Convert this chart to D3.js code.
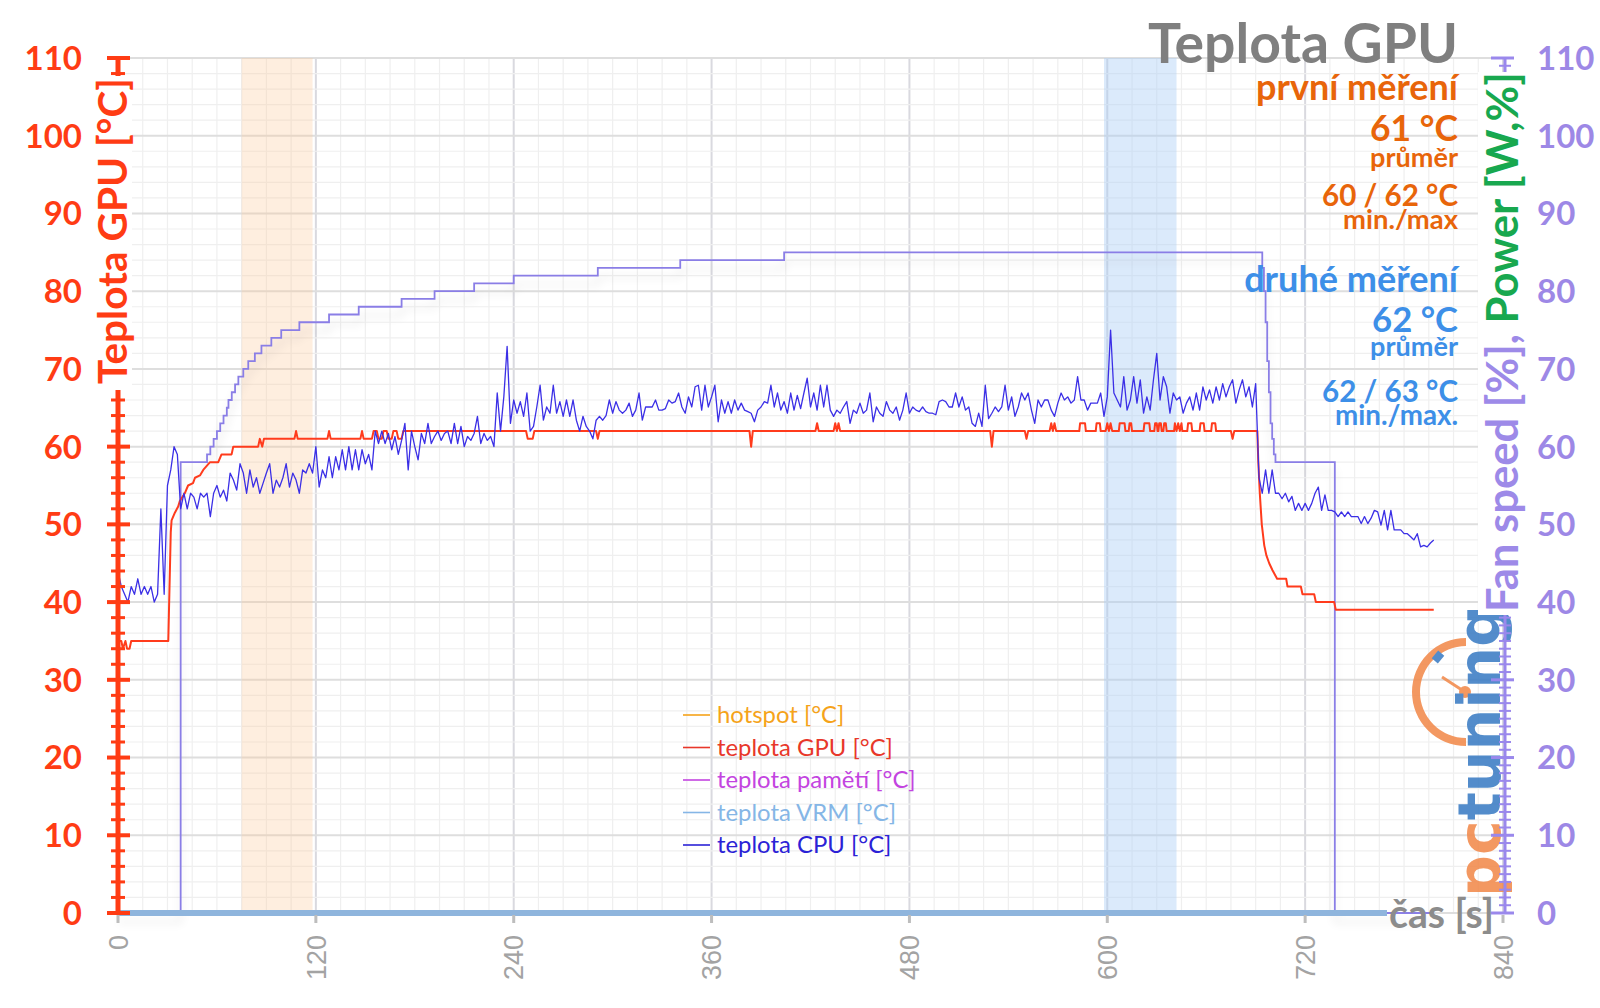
<!DOCTYPE html>
<html><head><meta charset="utf-8">
<script src="https://cdn.jsdelivr.net/npm/d3@7"></script>
<style>body{margin:0;background:#fff}svg{display:block}</style>
</head><body>
<svg id="c" width="1600" height="1008"></svg>
<script>
// ---------- data ----------
const timeTicks = [0,120,240,360,480,600,720,840];
const tempTicks = [0,10,20,30,40,50,60,70,80,90,100,110];
const rightTicks = [0,10,20,30,40,50,60,70,80,90,100,110];

// GPU temperature [°C] (time s, value)
const gpuTimes = [0,2,3,4.5,5.5,7,8,30.5,32,32.5,34.5,36.5,37.5,40.5,42.5,45.5,46.7,49.7,51.7,55.8,60.8,62.8,68.9,69.9,85,86,87.5,88.5,107,108,109,127,128,129,147,148,149,154,155,157,158,160,161,163,164,166,167,169,170,172,173,247.5,248.5,251.5,252.5,290,291,292,383,384,385,423,424,425,434,435,436,437,438,529,530,531,550,551,552,565,566,567,568,569,583,583.5,586.5,587,593,593.5,595.5,596,599,600,601,602,603,607,607.5,610.5,611,613,613.5,614.5,615,622,622.5,625.5,626,628.5,629,630,630.5,631,631.5,632.5,633,634,634.5,635.5,636,640.5,641,642,643,644,645,645.5,648.5,649,651,651.5,656,656.5,658.5,659,663,663.5,665.5,666,675,676,677,691,691.6,692.5,693.7,695.2,696.5,698.2,700.2,703,708.5,709.3,717.4,718.4,725.5,726.5,737.6,738.6,798];
const gpuValues = [35,35,34,35,34,34,35,35,49,50.5,51.5,52.3,53,54,55,55.3,56,56.3,57,58,58,59,59,60,60,61,60,61,61,62,61,61,62,61,61,62,61,61,62,62,61,61,62,62,61,61,62,62,61,61,62,62,61,61,62,62,61,62,62,60,62,62,63,62,62,63,62,63,62,62,60,62,62,61,62,62,63,62,63,62,62,63,63,62,62,63,63,62,62,63,62,63,62,62,63,63,62,62,63,63,62,62,63,63,62,62,63,63,62,62,63,63,62,62,63,63,62,62,63,62,63,62,63,62,62,63,63,62,62,63,63,62,62,63,63,62,62,61,62,62,58,54,50,47.3,46,45,44.1,43,43,42,42,41,41,40,40,39,39];

// CPU temperature [°C], one value every 2 s from 0 s
const cpuStep = 2;
const cpuValues = [
44,42,41,40,42,41,43,41,42,41,
42,40,41,52,41,55,57,60,59,52,
54,52,54,53.5,52,54,53.5,54,51,54,
55,53.5,54.4,53,56.6,55.7,54.4,57.8,56.6,54,
57,54.8,56,54,55.3,56.6,57.8,54,55.7,54.8,
56,57.8,54.8,56.6,55.7,54,57,56.6,57.8,56.6,
60,54.8,57,56,58.7,56,58.7,57,59.6,57,
60,57,59.6,57,59.6,57.8,59,57,62,60.4,
62,60.4,61.7,59.6,61.3,59,60.8,63,57,62,
60,58.3,61.7,60.4,63,60.4,61.3,62,60.8,61.7,
62,60.4,63,60.4,62.6,60,61.3,60.8,61.7,63.9,
60.4,61.7,60.8,61.3,60,66.9,62,66.4,72.9,63,
66,64.3,65.8,63.9,66.9,62,62.6,65.1,67.9,63.4,
65.1,64.3,67.9,64.3,65.8,63.9,66,63.9,66,63.4,
62,63.9,62.6,62,61,63.4,63.9,63.4,64,66,
64.3,65.8,64.7,64.3,64.7,65.6,63.9,64.7,66.9,63.4,
65.1,65.1,65.1,66,64.7,64.7,64.9,66,65.6,65.8,
66.9,65.1,64.3,66.4,65.1,67.7,67.9,64.7,67.9,65.1,
66.4,67.9,63.2,66,64.3,65.8,64.3,66,64.7,65.6,
64.7,64.5,64.3,63.2,64.7,65.1,65.8,65.6,67.9,65.1,
66.9,64.7,65.8,64.3,66.9,64.7,66.6,64.9,66.9,68.8,
65.1,66.9,64.7,67.9,65.1,67.9,64.7,63.9,64.7,64.3,
65.1,65.8,63,64.7,64.3,65.6,64.3,64.7,66.9,63.2,
65.1,64.3,63.9,65.8,64.7,64.3,65.1,63.4,64.7,66.9,
64.3,65.1,64.7,64.5,65.1,64.5,64.3,64.3,64.1,65.8,
66,65.8,65.1,65.1,66.9,65.1,66.4,64.7,65.1,63,
62.6,64.3,62.6,67.9,63.6,64.3,65.1,64.5,65.1,67.9,
64.7,66.4,63.9,65.1,66.9,66,66.9,64.7,63,66,
65.1,66,66,64.7,63.9,65.6,66.9,66,66.4,65.6,
66,69,66,66,64.7,65.6,65.6,65.6,66.9,63.9,
66.4,75,66.9,66,65.1,69,64.7,66,69,65.6,
68.6,64.3,66.4,64.7,68.6,72,66,69,67.7,64.3,
66.9,66,66.4,64.3,65.6,66.4,64.7,66.9,64.7,67.7,
66,67.3,65.6,67.7,66,68.1,66.4,67.7,68.6,65.6,
67.3,68.6,66.4,67.7,65.1,68.1,56,54,57,54,
57,54,54,53.3,54,52.9,53.6,51.8,52.7,51.8,
52.7,51.8,52.7,54,54.8,51.8,53.8,51.8,51.8,51.6,
51,51.6,51,51.6,51,51,51,50.1,51,50.1,
50.8,51.8,51.6,49.9,51.8,49.3,51.8,49.3,49.3,49.3,
48.8,48.8,48.4,48,48.8,47.1,47.3,47.1,47.6,48];

// Fan speed [%] (step after)
const fanTimes = [0,38,54,56,58,60,62,64,66,67,69,71,73,76,79,83,87,93,99,110,128,146,172,192,216,240,291,341,404,694,695,696,697,698,699,700,701,702,738,798];
const fanValues = [0,58,59,60,61,62,63,64,65,66,67,68,69,70,71,72,73,74,75,76,77,78,79,80,81,82,83,84,85,83,80,76,71,67,63,61,59,58,0,0];

const bandFirst = [75,118];
const bandSecond = [598,642];

const legendLabels = ["hotspot [°C]","teplota GPU [°C]","teplota pamětí [°C]","teplota VRM [°C]","teplota CPU [°C]"];
const legendColors = ["#f5a31a","#e8372a","#c344e0","#85b6e6","#2b22d6"];

const infoFirst = ["první měření","61 °C","průměr","60 / 62 °C","min./max"];
const infoSecond = ["druhé měření","62 °C","průměr","62 / 63 °C","min./max."];

// ---------- drawing ----------
const svg = d3.select("#c");
const F = "Lato, 'Open Sans', sans-serif";
const x = d3.scaleLinear().domain([0,840]).range([118,1503]);
const y = d3.scaleLinear().domain([0,110]).range([913,58]);
const yR = d3.scaleLinear().domain([0,110]).range([913,58]);

function fit(sel, target){
  const w = sel.node().getComputedTextLength();
  const fs = parseFloat(sel.attr("font-size"));
  sel.attr("font-size", fs*target/w);
  return sel;
}

const defs = svg.append("defs");
const filt = defs.append("filter").attr("id","sh").attr("x","-5%").attr("y","-10%").attr("width","110%").attr("height","140%");
filt.append("feGaussianBlur").attr("in","SourceAlpha").attr("stdDeviation",5).attr("result","b");
filt.append("feOffset").attr("in","b").attr("dy",9).attr("result","o");
filt.append("feComponentTransfer").attr("in","o").attr("result","t").append("feFuncA").attr("type","linear").attr("slope",0.13);
const fm = filt.append("feMerge"); fm.append("feMergeNode").attr("in","t"); fm.append("feMergeNode").attr("in","SourceGraphic");

// grid
const g = svg.append("g");
g.selectAll(".vm").data(d3.range(0,841,15)).join("line")
  .attr("x1",d=>x(d)).attr("x2",d=>x(d)).attr("y1",y(110)).attr("y2",y(0))
  .attr("stroke",d=>d%120===0?"#d9d9df":"#efefef").attr("stroke-width",d=>d%120===0?2:1.2);
g.selectAll(".hm").data(d3.range(0,111,2)).join("line")
  .attr("x1",x(0)).attr("x2",x(840)).attr("y1",d=>y(d)).attr("y2",d=>y(d))
  .attr("stroke",d=>d%10===0?"#dedede":"#efefef").attr("stroke-width",d=>d%10===0?2:1.2);

// bands
svg.append("rect").attr("x",x(bandFirst[0])).attr("width",x(bandFirst[1])-x(bandFirst[0]))
  .attr("y",y(110)).attr("height",y(0)-y(110)).attr("fill","#fbc896").attr("opacity",0.3);
svg.append("rect").attr("x",x(bandSecond[0])).attr("width",x(bandSecond[1])-x(bandSecond[0]))
  .attr("y",y(110)).attr("height",y(0)-y(110)).attr("fill","#a9cdf5").attr("opacity",0.42);

// logo (watermark)
const logo = svg.append("g").attr("opacity",0.88);
const arc = d3.arc().innerRadius(46).outerRadius(54).startAngle(Math.PI).endAngle(2*Math.PI);
logo.append("path").attr("d",arc()).attr("transform","translate(1466,692)").attr("fill","#f28a4c");
logo.append("rect").attr("x",1434).attr("y",652).attr("width",8).attr("height",10).attr("fill","#3c7dc4").attr("transform","rotate(40,1438,657)");
logo.append("line").attr("x1",1442).attr("y1",677).attr("x2",1465).attr("y2",692).attr("stroke","#f28a4c").attr("stroke-width",3);
logo.append("circle").attr("cx",1465).attr("cy",692).attr("r",6).attr("fill","#f28a4c");
const lt = logo.append("text").attr("transform","translate(1500,897) rotate(-90)")
  .attr("font-family","'DejaVu Sans', sans-serif").attr("font-weight","bold").attr("font-size",56);
lt.append("tspan").attr("fill","#f28a4c").text("pc");
lt.append("tspan").attr("fill","#3c7dc4").text("tuning");
fit(lt,292);

// lines
const fanPts = fanTimes.map((t,i)=>[t,fanValues[i]]);
svg.append("path").datum(fanPts).attr("fill","none").attr("stroke","#8a7ee6").attr("stroke-width",1.8)
  .attr("filter","url(#sh)")
  .attr("d",d3.line().x(d=>x(d[0])).y(d=>yR(d[1])).curve(d3.curveStepAfter));

const gpuPts = gpuTimes.map((t,i)=>[t,gpuValues[i]]);
svg.append("path").datum(gpuPts).attr("fill","none").attr("stroke","#ff3b1c").attr("stroke-width",2)
  .attr("stroke-linejoin","round")
  .attr("d",d3.line().x(d=>x(d[0])).y(d=>y(d[1])));

const cpuPts = cpuValues.map((v,i)=>[i*cpuStep,v]);
svg.append("path").datum(cpuPts).attr("fill","none").attr("stroke","#3b2fe6").attr("stroke-width",1.3)
  .attr("stroke-linejoin","round")
  .attr("d",d3.line().x(d=>x(d[0])).y(d=>y(d[1])));

// x axis
svg.append("line").attr("x1",x(0)).attr("x2",1387).attr("y1",y(0)+2).attr("y2",y(0)+2).attr("stroke","#cfcfcf").attr("stroke-width",2);
svg.append("line").attr("x1",x(0)).attr("x2",1387).attr("y1",y(0)).attr("y2",y(0)).attr("stroke","#8fb5dd").attr("stroke-width",6);
svg.selectAll(".xt").data(timeTicks).join("line")
  .attr("x1",d=>x(d)).attr("x2",d=>x(d)).attr("y1",y(0)+2).attr("y2",y(0)+10).attr("stroke","#bdbdbd").attr("stroke-width",3);
svg.selectAll(".xl").data(timeTicks).join("text")
  .attr("transform",d=>`translate(${x(d)},935) rotate(-90)`).attr("dy","0.36em")
  .attr("text-anchor","end").attr("font-family","'Liberation Sans', Arial, sans-serif").attr("font-size",27)
  .attr("fill","#a3a3a3").text(d=>d);
fit(svg.append("text").attr("x",1389).attr("y",915).attr("dy","0.33em").attr("font-family",F).attr("font-weight","bold")
  .attr("font-size",32).attr("fill","#8c8c8c").text("čas [s]"),105);

// left axis
const red = "#ff3c14";
svg.append("line").attr("x1",118).attr("x2",118).attr("y1",y(0)).attr("y2",y(110)).attr("stroke",red).attr("stroke-width",5);
svg.selectAll(".lmt").data(d3.range(0,111,2).filter(d=>d%10)).join("line")
  .attr("x1",111).attr("x2",125).attr("y1",d=>y(d)).attr("y2",d=>y(d)).attr("stroke",red).attr("stroke-width",3);
svg.selectAll(".lMt").data(tempTicks).join("line")
  .attr("x1",107).attr("x2",130).attr("y1",d=>y(d)).attr("y2",d=>y(d)).attr("stroke",red).attr("stroke-width",4);
svg.append("rect").attr("x",86).attr("y",76).attr("width",46).attr("height",314).attr("fill","#fff");
fit(svg.append("text").attr("transform","translate(127,384) rotate(-90)").attr("font-family",F).attr("font-weight","bold")
  .attr("font-size",42).attr("fill",red).text("Teplota GPU [°C]"),306);
svg.selectAll(".ll").data(tempTicks).join("text")
  .attr("x",82).attr("y",d=>y(d)).attr("dy","0.36em").attr("text-anchor","end")
  .attr("font-family",F).attr("font-weight","bold").attr("font-size",33).attr("fill",red).text(d=>d);

// right axis
const purp = "#9a88ec";
svg.append("line").attr("x1",1505).attr("x2",1505).attr("y1",y(0)).attr("y2",y(110)).attr("stroke",purp).attr("stroke-width",3);
svg.selectAll(".rmt").data(d3.range(0,111,1).filter(d=>d%10)).join("line")
  .attr("x1",1499).attr("x2",1511).attr("y1",d=>yR(d)).attr("y2",d=>yR(d)).attr("stroke",purp).attr("stroke-width",2);
svg.selectAll(".rMt").data(rightTicks).join("line")
  .attr("x1",1491).attr("x2",1514).attr("y1",d=>yR(d)).attr("y2",d=>yR(d)).attr("stroke",purp).attr("stroke-width",3);
svg.append("rect").attr("x",1478).attr("y",72).attr("width",46).attr("height",543).attr("fill","#fff");
const rt = svg.append("text").attr("transform","translate(1518,612) rotate(-90)").attr("font-family",F).attr("font-weight","bold").attr("font-size",42);
rt.append("tspan").attr("fill","#9d8ae8").text("Fan speed [%], ");
rt.append("tspan").attr("fill","#18a84f").text("Power [W,%]");
fit(rt,540);
svg.selectAll(".rl").data(rightTicks).join("text")
  .attr("x",1537).attr("y",d=>yR(d)).attr("dy","0.36em").attr("text-anchor","start")
  .attr("font-family",F).attr("font-weight","bold").attr("font-size",33).attr("fill","#9d88e6").text(d=>d);

// title
fit(svg.append("text").attr("x",1458).attr("y",63).attr("text-anchor","end").attr("font-family",F).attr("font-weight","bold")
  .attr("font-size",52).attr("fill","#7f7f7f").text("Teplota GPU"),310);

// info blocks
const infoLayout = [[100,202,30],[141,88,36],[167,88,22],[206,136,32],[229,115,22]];
const infoLayout2 = [[292,214,30],[332,86,36],[356,88,22],[402,136,32],[425,123,22]];
infoFirst.forEach((s,i)=>{
  fit(svg.append("text").attr("x",1458).attr("y",infoLayout[i][0]).attr("text-anchor","end").attr("font-family",F)
    .attr("font-weight","bold").attr("font-size",infoLayout[i][2]).attr("fill","#e8650a").text(s),infoLayout[i][1]);
});
infoSecond.forEach((s,i)=>{
  fit(svg.append("text").attr("x",1458).attr("y",infoLayout2[i][0]).attr("text-anchor","end").attr("font-family",F)
    .attr("font-weight","bold").attr("font-size",infoLayout2[i][2]).attr("fill","#3d8fe8").text(s),infoLayout2[i][1]);
});

// legend
const lg = svg.append("g");
const probe = lg.append("text").attr("font-family",F).attr("font-size",22).text(legendLabels[1]);
const legendFont = 22*176/probe.node().getComputedTextLength();
probe.remove();
legendLabels.forEach((s,i)=>{
  const yy = 715 + i*32.5;
  lg.append("line").attr("x1",683).attr("x2",710).attr("y1",yy).attr("y2",yy).attr("stroke",legendColors[i]).attr("stroke-width",1.6);
  lg.append("text").attr("x",717).attr("y",yy).attr("dy","0.35em").attr("font-family",F).attr("font-size",legendFont)
    .attr("fill",legendColors[i]).text(s);
});
</script>
</body></html>
